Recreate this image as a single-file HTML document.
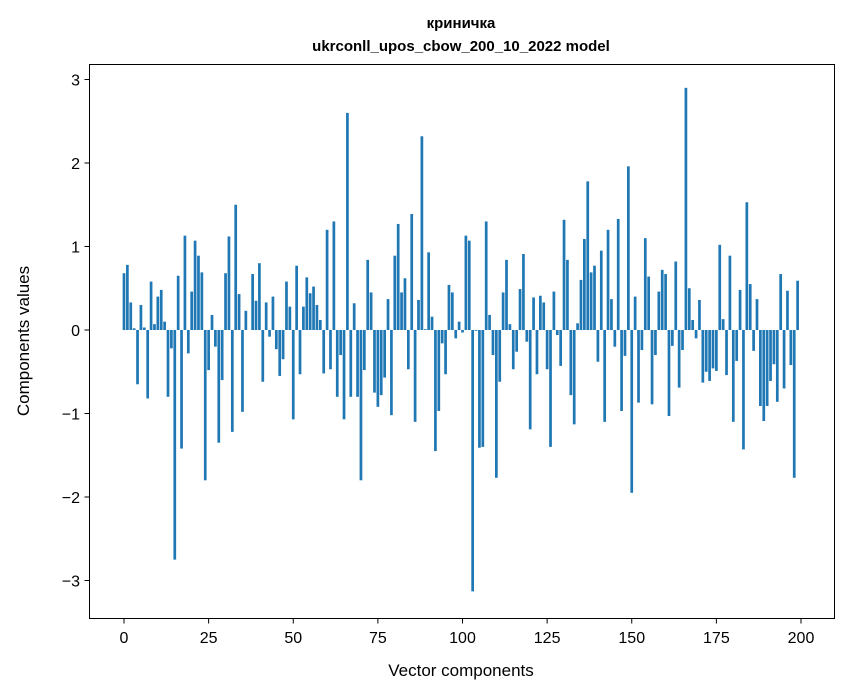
<!DOCTYPE html>
<html><head><meta charset="utf-8"><style>
body{margin:0;background:#fff;}
svg{display:block;font-family:"Liberation Sans","DejaVu Sans",sans-serif;}
</style></head><body>
<svg id="chart" width="847" height="696">
<text x="461" y="28" text-anchor="middle" font-size="15" font-weight="bold">криничка</text>
<text x="461" y="51" text-anchor="middle" font-size="15" font-weight="bold">ukrconll_upos_cbow_200_10_2022 model</text>
<g id="bars"></g>
<rect x="89.5" y="64.5" width="745" height="554" fill="none" stroke="#000" stroke-width="1"/>
<g id="xt"></g>
<g id="yt"></g>
<text x="461" y="676" text-anchor="middle" font-size="17">Vector components</text>
<text transform="translate(29,341) rotate(-90)" text-anchor="middle" font-size="17">Components values</text>
</svg>
<script>
const values = [0.68,0.78,0.33,0.02,-0.65,0.3,0.03,-0.82,0.58,0.07,0.4,0.48,0.1,-0.8,-0.22,-2.75,0.65,-1.42,1.13,-0.28,
0.46,1.07,0.89,0.69,-1.8,-0.48,0.18,-0.2,-1.35,-0.6,0.68,1.12,-1.22,1.5,0.43,-0.98,0.23,0.0,0.67,0.35,
0.8,-0.62,0.33,-0.08,0.4,-0.23,-0.55,-0.35,0.58,0.28,-1.07,0.77,-0.53,0.28,0.63,0.44,0.52,0.3,0.12,-0.52,
1.2,-0.47,1.3,-0.8,-0.3,-1.07,2.6,-0.8,0.32,-0.8,-1.8,-0.48,0.84,0.45,-0.75,-0.92,-0.78,-0.57,0.37,-1.02,
0.89,1.27,0.45,0.62,-0.47,1.39,-1.1,0.36,2.32,0.01,0.93,0.16,-1.45,-0.97,-0.16,-0.53,0.54,0.45,-0.1,0.1,
-0.03,1.13,1.07,-3.13,-0.01,-1.41,-1.4,1.3,0.18,-0.3,-1.77,-0.62,0.45,0.84,0.07,-0.47,-0.26,0.49,0.91,-0.14,
-1.19,0.39,-0.53,0.41,0.33,-0.47,-1.4,0.46,-0.06,-0.43,1.32,0.84,-0.78,-1.13,0.08,0.6,1.09,1.78,0.69,0.77,
-0.38,0.95,-1.1,1.2,0.37,-0.2,1.33,-0.97,-0.31,1.96,-1.95,0.4,-0.87,-0.24,1.1,0.64,-0.89,-0.3,0.46,0.72,
0.67,-1.03,-0.19,0.82,-0.69,-0.24,2.9,0.5,0.12,-0.1,0.36,-0.63,-0.5,-0.61,-0.46,-0.49,1.02,0.13,-0.54,0.89,
-1.1,-0.37,0.48,-1.43,1.53,0.55,-0.25,0.37,-0.91,-1.09,-0.91,-0.61,-0.41,-0.86,0.67,-0.7,0.47,-0.42,-1.77,0.59];
const xTicks = [0,25,50,75,100,125,150,175,200];
const yTicks = [-3,-2,-1,0,1,2,3];
const NS="http://www.w3.org/2000/svg";
function X(v){return 124+v*3.385;}
function Y(v){return 330-v*83.5;}
const bars=document.getElementById('bars');
values.forEach((v,i)=>{
  const r=document.createElementNS(NS,'rect');
  const w=3.385*0.8;
  r.setAttribute('x',X(i)-w/2);
  r.setAttribute('width',w);
  r.setAttribute('y',Math.min(Y(v),Y(0)));
  r.setAttribute('height',Math.abs(Y(v)-Y(0)));
  r.setAttribute('fill','#1f77b4');
  
  
  bars.appendChild(r);
});
const xt=document.getElementById('xt');
xTicks.forEach(t=>{
  const l=document.createElementNS(NS,'line');
  l.setAttribute('x1',X(t));l.setAttribute('x2',X(t));l.setAttribute('y1',618.5);l.setAttribute('y2',623.5);l.setAttribute('stroke','#000');
  
  
  xt.appendChild(l);
  const tx=document.createElementNS(NS,'text');
  tx.setAttribute('x',X(t));tx.setAttribute('y',643);tx.setAttribute('text-anchor','middle');tx.setAttribute('font-size','16');
  tx.textContent=t;
  
  
  xt.appendChild(tx);
});
const yt=document.getElementById('yt');
yTicks.forEach(t=>{
  const l=document.createElementNS(NS,'line');
  l.setAttribute('x1',84.5);l.setAttribute('x2',89.5);l.setAttribute('y1',Y(t));l.setAttribute('y2',Y(t));l.setAttribute('stroke','#000');
  
  
  yt.appendChild(l);
  const tx=document.createElementNS(NS,'text');
  tx.setAttribute('x',80);tx.setAttribute('y',Y(t)+6);tx.setAttribute('text-anchor','end');tx.setAttribute('font-size','16');
  tx.textContent=t<0?'\u2212'+Math.abs(t):t;
  
  
  yt.appendChild(tx);
});
</script>
</body></html>
